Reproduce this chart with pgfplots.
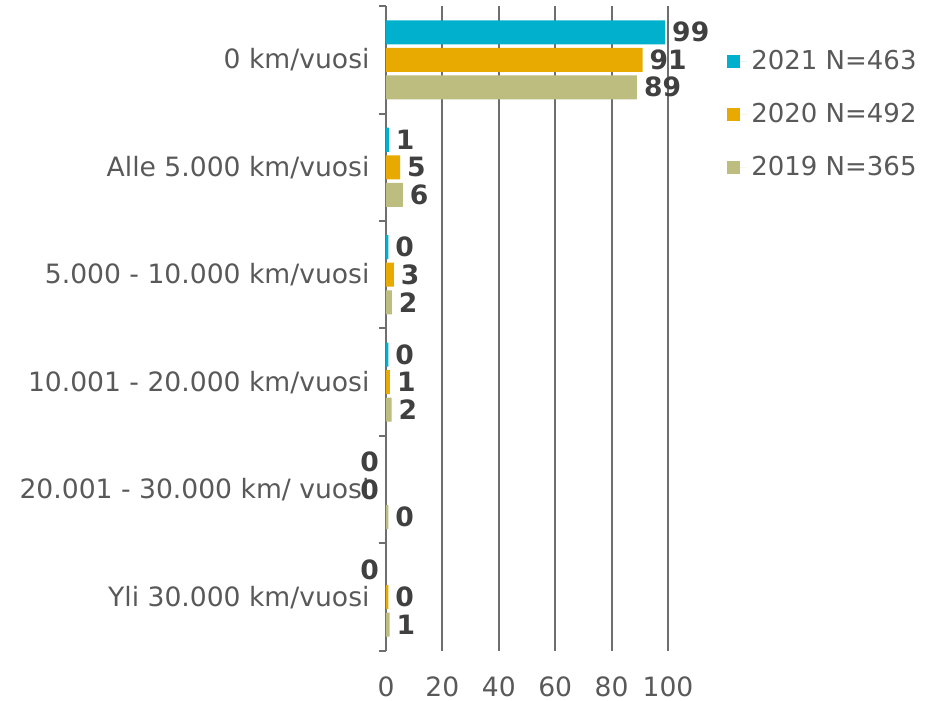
\documentclass[border=0pt]{standalone}
\usepackage{pgfplots}
\pgfplotsset{compat=1.18}
\usepackage{fontspec}
\setmainfont{DejaVu Sans}

\definecolor{c21}{HTML}{00B0CC}
\definecolor{c20}{HTML}{E8A900}
\definecolor{c19}{HTML}{BDBD7F}
\definecolor{txt}{HTML}{595959}
\definecolor{lbl}{HTML}{404040}
\definecolor{grd}{HTML}{6E6E6E}

\begin{document}
\begin{tikzpicture}
\begin{axis}[
  at={(0,0)}, anchor=south west,
  width=141pt, height=322.5pt, scale only axis,
  xmin=0, xmax=100,
  ymin=-0.5, ymax=5.5,
  xbar, bar width=12pt,
  xtick={0,20,...,100},
  ytick={0,...,5},
  yticklabels={Yli 30.000 km/vuosi, 20.001 - 30.000 km/ vuosi, 10.001 - 20.000 km/vuosi, 5.000 - 10.000 km/vuosi, Alle 5.000 km/vuosi, 0 km/vuosi},
  extra y ticks={-0.5,0.5,...,5.5},
  extra y tick labels={},
  extra y tick style={major tick length=3.5pt, tick align=outside, tick style={draw=grd, line width=1pt}},
  major tick length=0pt,
  axis lines*=left,
  x axis line style={draw=none},
  y axis line style={draw=grd, line width=1pt, -},
  xmajorgrids, grid style={draw=grd, line width=1pt},
  tick label style={font=\fontsize{13.3}{16}\selectfont, text=txt},
  /pgf/number format/assume math mode=true,
  xticklabel style={yshift=-9.5pt},
  yticklabel style={xshift=-4.7pt},
  point meta=explicit symbolic,
  nodes near coords={\pgfplotspointmeta},
  nodes near coords style={anchor=west, font=\bfseries\fontsize{13.3}{16}\selectfont, text=lbl},
  legend style={at={(axis description cs:1.209,0.938)}, anchor=north west,
    draw=none, fill=none, inner sep=0pt, row sep=11.25pt,
    font=\fontsize{13}{15}\selectfont, text=txt},
  legend cell align=left,
]
\addplot[fill=c21, draw=none, bar shift=13.75pt,
  legend image code/.code={\fill[c21] (0pt,-3.25pt) rectangle (6.5pt,3.25pt); \path (0pt,0pt) -- (10pt,0pt);}]
  coordinates {(99,5)[99] (1,4)[1] (0.8,3)[0] (0.8,2)[0]};
\addplot[fill=c20, draw=none, bar shift=0pt,
  legend image code/.code={\fill[c20] (0pt,-3.25pt) rectangle (6.5pt,3.25pt); \path (0pt,0pt) -- (10pt,0pt);}]
  coordinates {(91,5)[91] (5,4)[5] (2.8,3)[3] (1.4,2)[1] (0.8,0)[0]};
\addplot[fill=c19, draw=none, bar shift=-13.75pt,
  legend image code/.code={\fill[c19] (0pt,-3.25pt) rectangle (6.5pt,3.25pt); \path (0pt,0pt) -- (10pt,0pt);}]
  coordinates {(89,5)[89] (6,4)[6] (2.1,3)[2] (2,2)[2] (0.8,1)[0] (1.3,0)[1]};
% zero values: label sits left of the axis
\addplot[forget plot, draw=none, fill=none, bar shift=13.75pt,
  nodes near coords style={anchor=east}]
  coordinates {(0,1)[0] (0,0)[0]};
\addplot[forget plot, draw=none, fill=none, bar shift=0pt,
  nodes near coords style={anchor=east}]
  coordinates {(0,1)[0]};
\legend{2021 N=463, 2020 N=492, 2019 N=365}
\end{axis}
\pgfresetboundingbox
\path (-193pt,-25pt) rectangle (270pt,325.5pt);
\end{tikzpicture}
\end{document}
